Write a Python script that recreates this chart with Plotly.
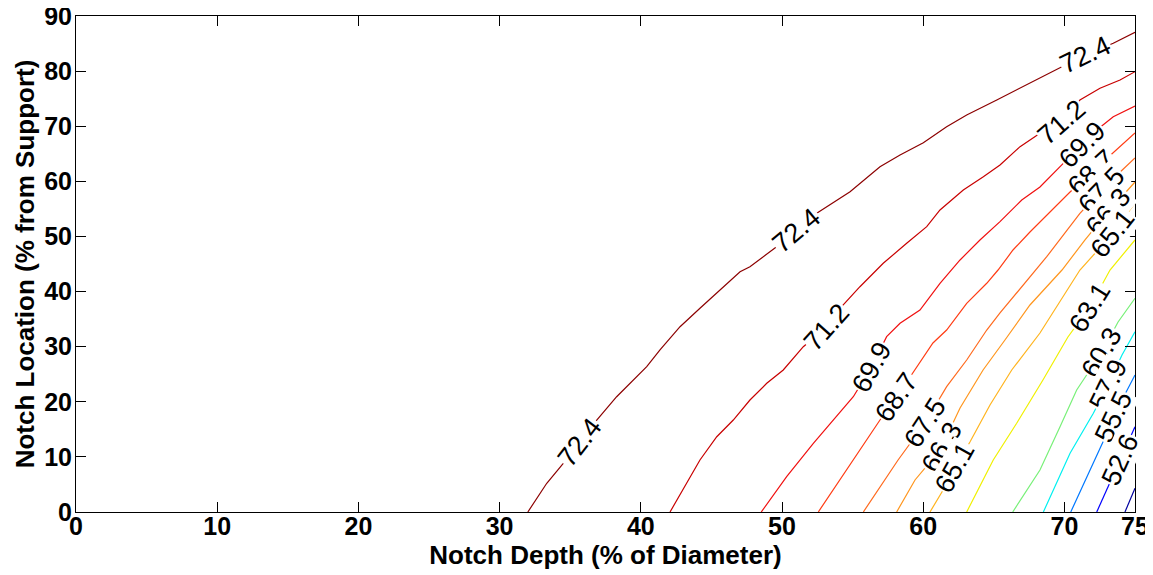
import math
import numpy as np
import plotly.graph_objects as go

# ---- contour lines (x = notch depth %, y = notch location %) ----
levels = [72.4, 71.2, 69.9, 68.7, 67.5, 66.3, 65.1, 63.1, 60.3, 57.9, 55.5, 52.6, 50.2]

x_724 = [32.0, 33.34, 34.51, 35.69, 36.88, 38.29, 39.24, 40.42, 41.36, 42.78, 44.19, 45.38, 47.03, 47.73,
         49.62, 51.06, 52.46, 54.82, 56.94, 58.36, 60.01, 61.66, 63.08, 65.21, 66.86, 68.75, 69.92,
         71.46, 73.46, 75.0]
y_724 = [0.0, 5.21, 8.84, 12.76, 16.69, 20.92, 23.35, 26.37, 29.40, 33.62, 36.96, 39.68, 43.60, 44.51,
         48.14, 51.17, 54.20, 58.12, 62.66, 64.78, 67.01, 69.92, 72.04, 74.76, 76.88, 79.30, 80.80,
         82.93, 85.05, 87.04]

x_712 = [42.07, 43.25, 44.19, 45.38, 46.55, 47.73, 48.92, 50.09, 51.51, 53.17, 54.11, 55.52, 57.17, 58.83,
         60.25, 61.19, 62.84, 64.26, 65.44, 66.86, 68.27, 69.81, 71.10, 72.52, 73.94, 75.0]
y_712 = [0.0, 5.21, 9.44, 13.66, 16.69, 20.32, 23.35, 25.77, 29.99, 33.62, 36.96, 40.88, 45.13, 48.76,
         51.77, 54.80, 58.43, 60.84, 62.97, 66.29, 68.72, 70.82, 74.76, 76.88, 78.39, 79.90]

x_699 = [48.53, 50.33, 52.22, 53.63, 55.05, 56.35, 57.41, 58.36, 59.77, 61.19, 62.61, 64.02, 65.44, 66.98,
         68.27, 69.92, 71.25, 72.29, 73.46, 75.0]
y_699 = [0.0, 6.41, 12.47, 16.69, 20.92, 26.37, 31.81, 34.24, 36.65, 41.50, 45.73, 49.36, 52.68, 56.61,
         58.97, 63.27, 66.59, 69.32, 71.73, 73.67]

x_687 = [52.57, 54.11, 55.52, 56.94, 58.12, 59.42, 60.69, 61.66, 63.08, 64.50, 65.30, 66.36, 67.56, 68.98,
         70.40, 71.95, 73.44, 75.0]
y_687 = [0.0, 5.81, 11.25, 16.69, 20.87, 25.77, 30.67, 33.02, 37.87, 41.50, 43.91, 47.54, 50.81, 54.44,
         58.07, 61.69, 65.14, 68.77]

x_675 = [55.76, 56.94, 58.22, 60.13, 61.66, 63.08, 64.50, 65.44, 66.38, 68.75, 71.10, 72.64, 73.80, 75.0]
y_675 = [0.0, 4.54, 9.44, 16.15, 22.74, 27.58, 33.02, 36.11, 39.07, 46.33, 54.20, 58.43, 61.33, 64.24]

x_663 = [58.12, 59.42, 60.48, 61.31, 62.61, 64.24, 65.79, 67.56, 69.83, 71.46, 73.09, 75.0]
y_663 = [0.0, 5.81, 9.07, 11.85, 18.87, 25.77, 31.21, 37.56, 43.91, 49.36, 54.44, 59.88]

x_651 = [60.48, 61.54, 62.25, 63.31, 64.73, 66.27, 68.27, 69.83, 71.10, 72.38, 73.44, 75.0]
y_651 = [0.0, 4.54, 8.17, 12.70, 19.42, 25.77, 32.48, 38.83, 43.91, 47.54, 50.63, 56.07]

x_631 = [63.08, 64.96, 66.62, 68.48, 70.25, 71.81, 73.23, 75.0]
y_631 = [0.0, 9.44, 16.10, 23.95, 31.75, 37.25, 43.91, 49.36]

x_603 = [66.34, 68.27, 69.69, 70.87, 71.81, 72.66, 73.80, 75.0]
y_603 = [0.0, 7.62, 15.48, 22.14, 25.77, 29.03, 34.48, 38.78]

x_579 = [68.51, 70.40, 72.05, 73.09, 74.08, 75.0]
y_579 = [0.0, 10.65, 17.91, 23.05, 28.49, 32.72]

x_555 = [70.45, 71.81, 72.73, 73.46, 74.29, 75.0]
y_555 = [0.0, 7.62, 12.70, 17.29, 21.23, 24.86]

x_526 = [72.29, 73.23, 73.94, 74.50, 75.0]
y_526 = [0.0, 5.44, 9.44, 12.70, 15.48]

x_502 = [74.29, 75.0]
y_502 = [0.0, 4.30]

line_x = [x_724, x_712, x_699, x_687, x_675, x_663, x_651, x_631, x_603, x_579, x_555, x_526, x_502]
line_y = [y_724, y_712, y_699, y_687, y_675, y_663, y_651, y_631, y_603, y_579, y_555, y_526, y_502]

# label positions along each line (x of label centre); empty = unlabelled
label_x = [[35.69, 51.06, 71.46], [53.17, 69.81], [56.35, 71.25], [58.12, 71.95], [60.13, 72.64],
           [61.31, 73.09], [62.25, 73.44], [71.81], [72.66], [73.09], [73.46], [73.94], []]

x_ticks = [0, 10, 20, 30, 40, 50, 60, 70, 75]
y_ticks = [0, 10, 20, 30, 40, 50, 60, 70, 80, 90]

colors = ["#8c0000", "#c80000", "#f01010", "#ff3c14", "#ff6a1e", "#ff961e", "#ffb41e", "#f0f000",
          "#78f078", "#00f0f0", "#0078ff", "#0000ff", "#0000a0"]

# the page body adds an 8px offset, so the figure is 8px smaller on each axis
W, H = 1145, 567
ML, MR, MT, MB = 68, 18, 8, 63
XR = [0, 75]
YR = [0, 90]
sx = (W - ML - MR) / (XR[1] - XR[0])
sy = (H - MT - MB) / (YR[1] - YR[0])
FONT = "Liberation Sans, Arial"

fig = go.Figure()
annotations = []
for lev, xs, ys, col, lxs in zip(levels, line_x, line_y, colors, label_x):
    fig.add_trace(go.Scatter(x=xs, y=ys, mode="lines", line=dict(color=col, width=1.2),
                             hoverinfo="skip", showlegend=False))
    xa = np.array(xs)
    ya = np.array(ys)
    for lx in lxs:
        ly = float(np.interp(lx, xa, ya))
        x1, x2 = max(lx - 1.0, xa[0]), min(lx + 1.0, xa[-1])
        y1, y2 = np.interp(x1, xa, ya), np.interp(x2, xa, ya)
        ang = math.degrees(math.atan2((y2 - y1) * sy, (x2 - x1) * sx))
        annotations.append(dict(x=lx, y=ly, xref="x", yref="y", text=f"{lev}", showarrow=False,
                                textangle=-ang, font=dict(family=FONT, size=27, color="black"),
                                bgcolor="white", borderpad=0))

axis_common = dict(showline=True, linecolor="black", linewidth=1, mirror="ticks", ticks="inside",
                   ticklen=10, tickcolor="black", showgrid=False, zeroline=False, automargin=False,
                   ticklabeloverflow="allow",
                   tickfont=dict(family=FONT, size=25, color="black"))

fig.update_layout(
    width=W, height=H,
    margin=dict(l=ML, r=MR, t=MT, b=MB),
    paper_bgcolor="white", plot_bgcolor="white",
    annotations=annotations,
    font=dict(family=FONT, color="black"),
    xaxis=dict(range=XR, tickvals=x_ticks, ticktext=[f"<b>{v}</b>" for v in x_ticks],
               ticklabelstandoff=-8,
               title=dict(text="<b>Notch Depth (% of Diameter)</b>",
                          font=dict(size=26, family=FONT), standoff=0),
               **axis_common),
    yaxis=dict(range=YR, tickvals=y_ticks, ticktext=[f"<b>{v}</b>" for v in y_ticks],
               ticklabelstandoff=-2,
               title=dict(text="<b>Notch Location (% from Support)</b>",
                          font=dict(size=26, family=FONT), standoff=2),
               **axis_common),
)

fig.write_html("out.html")
